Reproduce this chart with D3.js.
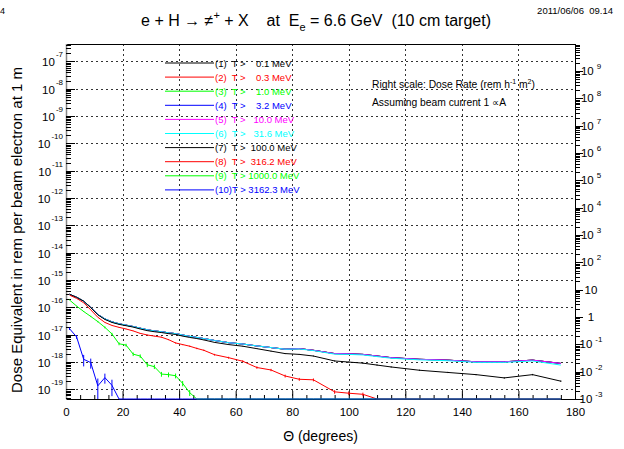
<!DOCTYPE html>
<html>
<head>
<meta charset="utf-8">
<script src="https://cdn.jsdelivr.net/npm/d3@7/dist/d3.min.js"></script>
<style>
  body { margin: 0; background: #fff; }
  svg { display: block; font-family: "Liberation Sans", Arial, sans-serif; }
</style>
</head>
<body>
<div id="chart"></div>
<script>
// angle bins (degrees)
var theta = [1.25, 3.75, 6.25, 8.75, 11.25, 13.75, 16.25, 18.75, 21.25, 23.75,
	26.25, 28.75, 31.25, 33.75, 36.25, 38.75, 41.25, 43.75, 46.25, 48.75,
	52.5, 57.5, 62.5, 67.5, 72.5, 77.5, 82.5, 87.5, 95, 100, 105, 110,
	115, 125, 135, 145, 155, 165, 175];

// log10 of dose per beam electron, null = empty bin
var logDoseLow = [-15.52, -15.63, -15.77, -16.00, -16.26, -16.42, -16.53, -16.60, -16.65, -16.70,
	-16.76, -16.82, -16.86, -16.89, -16.93, -16.96, -17.01, -17.06, -17.10, -17.14,
	-17.21, -17.29, -17.34, -17.41, -17.47, -17.53, -17.51, -17.57, -17.69, -17.70, -17.72, -17.78,
	-17.84, -17.90, -17.93, -17.99, -17.99, -17.93, -18.05];
var logDose6 = [-15.52, -15.63, -15.77, -16.00, -16.26, -16.42, -16.53, -16.60, -16.65, -16.70,
	-16.76, -16.82, -16.86, -16.89, -16.93, -16.96, -17.01, -17.06, -17.10, -17.14,
	-17.21, -17.29, -17.34, -17.41, -17.47, -17.53, -17.52, -17.58, -17.71, -17.72, -17.74, -17.80,
	-17.86, -17.92, -17.95, -18.01, -18.01, -17.96, -18.11];
var logDose7 = [-15.52, -15.63, -15.77, -16.01, -16.27, -16.44, -16.55, -16.62, -16.67, -16.72,
	-16.79, -16.85, -16.89, -16.92, -16.96, -16.99, -17.05, -17.10, -17.14, -17.19,
	-17.28, -17.36, -17.42, -17.51, -17.60, -17.69, -17.72, -17.78, -17.96, -18.00, -18.04, -18.11,
	-18.18, -18.30, -18.38, -18.46, -18.58, -18.46, -18.70];
var logDose8 = [-15.55, -15.67, -15.83, -16.09, -16.36, -16.55, -16.66, -16.73, -16.79, -16.86,
	-16.95, -17.01, -17.05, -17.09, -17.18, -17.30, -17.36, -17.42, -17.50, -17.57,
	-17.73, -17.84, -17.97, -18.20, -18.29, -18.51, -18.63, -18.65, -19.09, -19.14, -19.18, null,
	null, null, null, null, null, null, null];
var logDose9 = [-15.73, -15.95, -16.15, -16.33, -16.52, -16.73, -16.97, -17.33, -17.38, -17.71,
	-17.78, -18.10, -18.17, -18.44, -18.46, -18.50, -18.78, -19.12, null, null,
	null, null, null, null, null, null, null, null, null, null, null, null,
	null, null, null, null, null, null, null];
var logDose10 = [-16.78, -17.08, -17.90, -18.02, -18.87, -18.57, -18.85, null, null, null,
	null, null, null, null, null, null, null, null, null, null,
	null, null, null, null, null, null, null, null, null, null, null, null,
	null, null, null, null, null, null, null];

// relative errors
var err7 = [0, 0, 0, 0, 0, 0, 0, 0, 0, 0, 0, 0, 0, 0, 0.01, 0.01, 0.01, 0.01, 0.02, 0.02,
	0.02, 0.03, 0.03, 0.03, 0.03, 0.04, 0.04, 0.04, 0.05, 0.05, 0.05, 0.05,
	0.05, 0.05, 0.05, 0.05, 0.06, 0.06, 0.06];
var err8 = [0, 0, 0, 0, 0.01, 0.01, 0.01, 0.02, 0.02, 0.02, 0.03, 0.03, 0.03, 0.04, 0.04, 0.05, 0.05, 0.05, 0.06, 0.06,
	0.07, 0.08, 0.08, 0.1, 0.1, 0.12, 0.12, 0.12, 0.15, 0.15, 0.15, 0,
	0, 0, 0, 0, 0, 0, 0];
var err9 = [0.02, 0.03, 0.04, 0.05, 0.06, 0.08, 0.1, 0.12, 0.12, 0.15, 0.15, 0.18, 0.18, 0.2, 0.2, 0.2, 0.22, 0.25, 0, 0,
	0, 0, 0, 0, 0, 0, 0, 0, 0, 0, 0, 0,
	0, 0, 0, 0, 0, 0, 0];
var err10 = [0.1, 0.15, 0.45, 0.4, 0.85, 0.4, 0.6, 0, 0, 0, 0, 0, 0, 0, 0, 0, 0, 0, 0, 0,
	0, 0, 0, 0, 0, 0, 0, 0, 0, 0, 0, 0,
	0, 0, 0, 0, 0, 0, 0];

var thresholds = [0.1, 0.3, 1.0, 3.2, 10.0, 31.6, 100.0, 316.2, 1000.0, 3162.3];
var colors = ["#000000", "#ff0000", "#00ff00", "#0000ff", "#ff00ff", "#00ffff", "#000000", "#ff0000", "#00ff00", "#0000ff"];

var xTicks = [0, 20, 40, 60, 80, 100, 120, 140, 160, 180];
var leftExps = [-7, -8, -9, -10, -11, -12, -13, -14, -15, -16, -17, -18, -19];
var rightExps = [9, 8, 7, 6, 5, 4, 3, 2, 1, 0, -1, -2, -3];

var thetaRange = [0, 180];
var doseRange = [Math.pow(10, -19.352), Math.pow(10, -6.36)];
var electronsPerMicroampHour = 1e-6 / 1.602e-19 * 3600;

var series = [
	{ v: logDoseLow, e: null }, { v: logDoseLow, e: null }, { v: logDoseLow, e: null },
	{ v: logDoseLow, e: null }, { v: logDoseLow, e: null }, { v: logDose6, e: null },
	{ v: logDose7, e: err7 }, { v: logDose8, e: err8 }, { v: logDose9, e: err9 }, { v: logDose10, e: err10 }
];

var W = 624, H = 449;
var margin = { top: 44, right: 49, bottom: 50, left: 66 };
var innerW = W - margin.left - margin.right;
var innerH = H - margin.top - margin.bottom;

var svg = d3.select("#chart").append("svg").attr("width", W).attr("height", H);
var g = svg.append("g").attr("transform", "translate(" + margin.left + "," + margin.top + ")");

var x = d3.scaleLinear().domain(thetaRange).range([0, innerW]);
var y = d3.scaleLog().domain(doseRange).range([innerH, 0]).clamp(true);
var yR = d3.scaleLog().domain(doseRange.map(function (d) { return d * electronsPerMicroampHour; }))
	.range([innerH, 0]).clamp(true);

// grid
g.selectAll(".hgrid").data(leftExps).enter().append("line")
	.attr("x1", 0).attr("x2", innerW)
	.attr("y1", function (e) { return Math.round(y(Math.pow(10, e))) + 0.5; })
	.attr("y2", function (e) { return Math.round(y(Math.pow(10, e))) + 0.5; })
	.attr("stroke", "#333").attr("stroke-dasharray", "2,3");
g.selectAll(".vgrid").data(xTicks.slice(1, -1)).enter().append("line")
	.attr("x1", function (d) { return Math.round(x(d)) + 0.5; })
	.attr("x2", function (d) { return Math.round(x(d)) + 0.5; })
	.attr("y1", 0).attr("y2", innerH)
	.attr("stroke", "#333").attr("stroke-dasharray", "2,3");

// x axis
var xAxis = g.append("g").attr("transform", "translate(0," + innerH + ")")
	.call(d3.axisBottom(x).tickValues(xTicks).tickSize(-8).tickSizeOuter(0).tickPadding(9));
var xMinor = g.append("g").attr("transform", "translate(0," + innerH + ")")
	.call(d3.axisBottom(x).tickValues(d3.range(5, 180, 5).filter(function (d) { return d % 20; }))
		.tickSize(-4).tickFormat(""));
xMinor.select(".domain").remove();
[xAxis, xMinor].forEach(function (a) {
	a.attr("font-family", null).attr("font-size", 11.5);
	a.selectAll("line").attr("stroke", "#000");
});

// frame
g.append("line").attr("x1", 0).attr("x2", innerW).attr("y1", 0.5).attr("y2", 0.5).attr("stroke", "#000");
g.append("line").attr("x1", 0.5).attr("x2", 0.5).attr("y1", 0).attr("y2", innerH).attr("stroke", "#888").attr("stroke-width", 1.5);
g.append("line").attr("x1", innerW + 0.5).attr("x2", innerW + 0.5).attr("y1", 0).attr("y2", innerH).attr("stroke", "#000");

// log ticks
function minorTicks(exps, scale) {
	var out = [];
	var dom = scale.domain();
	exps.concat([d3.min(exps) - 1]).forEach(function (e) {
		for (var k = 2; k < 10; k++) {
			var v = k * Math.pow(10, e);
			if (v > dom[0] && v < dom[1]) out.push(v);
		}
	});
	return out;
}
g.selectAll(".lmin").data(minorTicks(leftExps, y)).enter().append("line")
	.attr("x1", 0).attr("x2", 5)
	.attr("y1", function (d) { return Math.round(y(d)) + 0.5; })
	.attr("y2", function (d) { return Math.round(y(d)) + 0.5; })
	.attr("stroke", "#000");
g.selectAll(".lmaj").data(leftExps).enter().append("line")
	.attr("x1", 0).attr("x2", 9)
	.attr("y1", function (e) { return Math.round(y(Math.pow(10, e))) + 0.5; })
	.attr("y2", function (e) { return Math.round(y(Math.pow(10, e))) + 0.5; })
	.attr("stroke", "#000");
g.selectAll(".rmin").data(minorTicks(rightExps, yR)).enter().append("line")
	.attr("x1", innerW).attr("x2", innerW + 5)
	.attr("y1", function (d) { return Math.round(yR(d)) + 0.5; })
	.attr("y2", function (d) { return Math.round(yR(d)) + 0.5; })
	.attr("stroke", "#000");
g.selectAll(".rmaj").data(rightExps).enter().append("line")
	.attr("x1", innerW).attr("x2", innerW + 8)
	.attr("y1", function (e) { return Math.round(yR(Math.pow(10, e))) + 0.5; })
	.attr("y2", function (e) { return Math.round(yR(Math.pow(10, e))) + 0.5; })
	.attr("stroke", "#000");

// left labels
var ll = g.selectAll(".llab").data(leftExps).enter().append("text")
	.attr("x", -3).attr("y", function (e) { return y(Math.pow(10, e)) + 5; })
	.attr("text-anchor", "end").attr("font-size", 11.5);
ll.append("tspan").text("10");
ll.append("tspan").attr("dx", 1).attr("dy", -9).attr("font-size", 8).text(function (e) { return e; });

// right labels
var rl = g.selectAll(".rlab").data(rightExps).enter().append("text")
	.attr("x", innerW + 16).attr("y", function (e) { return yR(Math.pow(10, e)) + 4; })
	.attr("text-anchor", "middle").attr("font-size", 11.5);
rl.append("tspan").text(function (e) { return e === 0 ? "1" : "10"; });
rl.filter(function (e) { return e !== 0 && e !== 1; }).append("tspan")
	.attr("dx", 3).attr("dy", -6).attr("font-size", 8).text(function (e) { return e; });

// curves
var line = d3.line()
	.x(function (p) { return x(p.t); })
	.y(function (p) { return p.v == null ? innerH : y(Math.pow(10, p.v)); });

series.forEach(function (s, i) {
	var pts = theta.map(function (t, j) { return { t: t, v: s.v[j], e: s.e ? s.e[j] : 0 }; });
	g.append("path").datum(pts)
		.attr("fill", "none").attr("stroke", colors[i]).attr("stroke-width", 1)
		.attr("d", line);
	g.selectAll(null).data(pts.filter(function (p) { return p.v != null && p.e > 0; })).enter().append("line")
		.attr("x1", function (p) { return x(p.t); }).attr("x2", function (p) { return x(p.t); })
		.attr("y1", function (p) { return y(Math.pow(10, p.v) * Math.max(1 - p.e, 1e-6)); })
		.attr("y2", function (p) { return y(Math.pow(10, p.v) * (1 + p.e)); })
		.attr("stroke", colors[i]).attr("stroke-width", 1);
});

// legend
var leg = svg.append("g").attr("font-size", 9.5);
thresholds.forEach(function (t, i) {
	var ly = 63 + i * 14.1;
	leg.append("line").attr("x1", 165).attr("x2", 214).attr("y1", ly).attr("y2", ly)
		.attr("stroke", colors[i]).attr("stroke-width", 1);
	var num = t.toFixed(1);
	while (num.length < 6) num = " " + num;
	leg.append("text").attr("x", 215).attr("y", ly + 3.5)
		.style("white-space", "pre").attr("fill", colors[i])
		.text("(" + (i + 1) + ")" + (i < 9 ? "  " : "") + "T > " + num + " MeV");
});

// notes
var n1 = svg.append("text").attr("x", 372).attr("y", 88).attr("font-size", 10.3);
n1.append("tspan").text("Right scale: Dose Rate (rem h");
n1.append("tspan").attr("dy", -4).attr("font-size", 7).text("-1");
n1.append("tspan").attr("dy", 4).text(" m");
n1.append("tspan").attr("dy", -4).attr("font-size", 7).text("2");
n1.append("tspan").attr("dy", 4).text(")");
svg.append("text").attr("x", 372).attr("y", 106).attr("font-size", 10.3).text("Assuming beam current 1 \u221DA");

// title
var tt = svg.append("text").attr("x", 316).attr("y", 26).attr("text-anchor", "middle")
	.attr("font-size", 16).style("white-space", "pre");
tt.append("tspan").text("e + H \u2192 \u2260");
tt.append("tspan").attr("dy", -7).attr("font-size", 11).text("+");
tt.append("tspan").attr("dy", 7).text(" + X    at  E");
tt.append("tspan").attr("dy", 5).attr("font-size", 11).text("e");
tt.append("tspan").attr("dy", -5).text(" = 6.6 GeV  (10 cm target)");

svg.append("text").attr("x", 613).attr("y", 14).attr("text-anchor", "end").attr("font-size", 9.5)
	.style("white-space", "pre").text("2011/06/06  09.14");
svg.append("text").attr("x", 0).attr("y", 14).attr("font-size", 9).text("4");

// axis titles
svg.append("text").attr("x", margin.left + innerW / 2).attr("y", 441).attr("text-anchor", "middle")
	.attr("font-size", 14).text("\u0398 (degrees)");
svg.append("text").attr("transform", "translate(22," + (margin.top + 186) + ") rotate(-90)")
	.attr("text-anchor", "middle").attr("font-size", 15)
	.text("Dose Equivalent in rem per beam electron at 1 m");
</script>
</body>
</html>
